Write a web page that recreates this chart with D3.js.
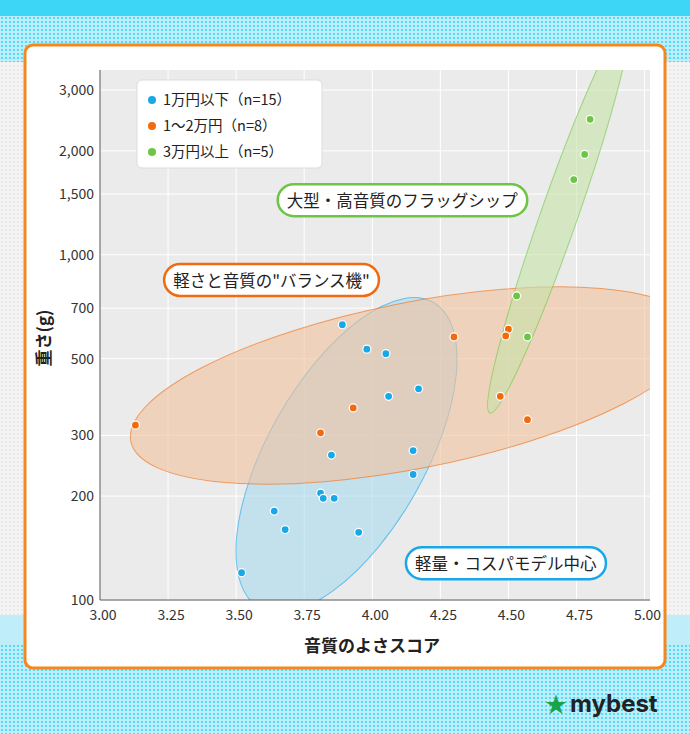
<!DOCTYPE html>
<html><head><meta charset="utf-8">
<script src="https://cdn.jsdelivr.net/npm/d3@7"></script>
<style>body{margin:0;background:#fff}svg{display:block;font-family:"Noto Sans CJK JP","Noto Sans",sans-serif}</style>
</head><body>
<svg id="c" width="690" height="734"></svg>
<script>
const groupNames = ["1万円以下（n=15）","1～2万円（n=8）","3万円以上（n=5）"];
const groupColors = ["#1aa7e8","#f26a0f","#6cc644"];
const blueX = [3.89,3.98,4.05,4.17,4.06,3.85,4.15,4.15,3.81,3.82,3.86,3.64,3.68,3.95,3.52];
const blueY = [627,533,517,409,389,263,271,231,204,197,197,181,160,157,120];
const orangeX = [3.13,3.81,3.93,4.30,4.47,4.50,4.49,4.57];
const orangeY = [321,305,360,578,389,609,582,333];
const greenX = [4.53,4.57,4.74,4.78,4.80];
const greenY = [760,578,1652,1953,2468];
const xTicks = [3.00,3.25,3.50,3.75,4.00,4.25,4.50,4.75,5.00];
const yTicks = [100,200,300,500,700,1000,1500,2000,3000];
const notes = [
  {text:"大型・高音質のフラッグシップ", g:2, x:4.11, y:1430},
  {text:"軽さと音質の\"バランス機\"", g:1, x:3.63, y:840},
  {text:"軽量・コスパモデル中心", g:0, x:4.49, y:127}
];

const svg = d3.select("#c");
const defs = svg.append("defs");
const pat = defs.append("pattern").attr("id","dots").attr("width",4).attr("height",4).attr("patternUnits","userSpaceOnUse");
pat.append("rect").attr("width",4).attr("height",4).attr("fill","#bdeefb");
pat.append("circle").attr("cx",2).attr("cy",2).attr("r",1.1).attr("fill","#3fd5f7");
const pat2 = defs.append("pattern").attr("id","dots2").attr("width",4).attr("height",4).attr("patternUnits","userSpaceOnUse");
pat2.append("rect").attr("width",4).attr("height",4).attr("fill","#f4f4f4");
pat2.append("circle").attr("cx",2).attr("cy",2).attr("r",0.9).attr("fill","#e4e4e4");

svg.append("rect").attr("width",690).attr("height",734).attr("fill","url(#dots2)");
svg.append("rect").attr("width",690).attr("height",62).attr("fill","url(#dots)");
svg.append("rect").attr("width",690).attr("height",16).attr("fill","#3dd6f7");
svg.append("rect").attr("y",615).attr("width",690).attr("height",119).attr("fill","url(#dots)");
svg.append("rect").attr("y",615).attr("width",690).attr("height",30).attr("fill","#bfeefa");

svg.append("rect").attr("x",25).attr("y",45).attr("width",640).attr("height",623).attr("rx",8)
  .attr("fill","#fff").attr("stroke","#f5871f").attr("stroke-width",3);

const L=100,R=650,T=70,B=600;
const x = d3.scaleLinear().domain([3.0,5.02]).range([L,R]);
const y = d3.scaleLog().domain([100,3430]).range([B,T]);

const g = svg.append("g");
g.append("rect").attr("x",L).attr("y",T).attr("width",R-L).attr("height",B-T).attr("fill","#ebebeb");
g.selectAll(".gx").data(xTicks).join("line").attr("x1",d=>x(d)).attr("x2",d=>x(d)).attr("y1",T).attr("y2",B).attr("stroke","#fff").attr("stroke-width",1);
g.selectAll(".gy").data(yTicks).join("line").attr("y1",d=>y(d)).attr("y2",d=>y(d)).attr("x1",L).attr("x2",R).attr("stroke","#fff").attr("stroke-width",1);

const groups = [[blueX,blueY],[orangeX,orangeY],[greenX,greenY]];
const clip = defs.append("clipPath").attr("id","pc");
clip.append("rect").attr("x",L).attr("y",T).attr("width",R-L).attr("height",B-T);
const eg = g.append("g").attr("clip-path","url(#pc)");
groups.forEach((gr,i)=>{
  const px = gr[0].map(x), py = gr[1].map(v=>y(v));
  const n=px.length, mx=d3.mean(px), my=d3.mean(py);
  let sxx=0,syy=0,sxy=0;
  for(let k=0;k<n;k++){sxx+=(px[k]-mx)**2;syy+=(py[k]-my)**2;sxy+=(px[k]-mx)*(py[k]-my);}
  sxx/=n-1;syy/=n-1;sxy/=n-1;
  const tr=sxx+syy, det=sxx*syy-sxy*sxy, disc=Math.sqrt(tr*tr/4-det);
  const l1=tr/2+disc, l2=tr/2-disc;
  const ang=Math.atan2(l1-sxx,sxy)*180/Math.PI;
  const s=2.08;
  eg.append("ellipse").attr("cx",mx).attr("cy",my).attr("rx",s*Math.sqrt(l1)).attr("ry",s*Math.sqrt(Math.max(l2,1))*(i===1?1.12:1))
    .attr("transform",`rotate(${ang},${mx},${my})`)
    .attr("fill",["#a9d8ef","#f2c29c","#c7e2a8"][i]).attr("fill-opacity",0.6)
    .attr("stroke",groupColors[i]).attr("stroke-opacity",0.6).attr("stroke-width",1);
});
groups.forEach((gr,i)=>{
  g.selectAll(null).data(gr[0].map((v,k)=>[v,gr[1][k]])).join("circle")
    .attr("cx",d=>x(d[0])).attr("cy",d=>y(d[1])).attr("r",4)
    .attr("fill",groupColors[i]).attr("stroke","#fff").attr("stroke-width",1.2);
});
g.append("line").attr("x1",L).attr("x2",L).attr("y1",T).attr("y2",B).attr("stroke","#555");
g.append("line").attr("x1",L).attr("x2",R).attr("y1",B).attr("y2",B).attr("stroke","#555");

g.selectAll(".xl").data(xTicks).join("text").attr("x",d=>x(d)+3).attr("y",B+20).attr("text-anchor","middle")
  .attr("font-size",14).attr("fill","#333").text(d=>d.toFixed(2));
g.selectAll(".yl").data(yTicks).join("text").attr("x",L-6).attr("y",d=>y(d)+5).attr("text-anchor","end")
  .attr("font-size",14).attr("fill","#333").text(d=>d3.format(",")(d));
svg.append("text").attr("x",372).attr("y",652).attr("text-anchor","middle").attr("font-size",17).attr("font-weight","bold").attr("fill","#222").text("音質のよさスコア");
svg.append("text").attr("transform","translate(50,338) rotate(-90)").attr("text-anchor","middle").attr("font-size",17).attr("font-weight","bold").attr("fill","#222").text("重さ(g)");

// legend
const lg = svg.append("g");
lg.append("rect").attr("x",137).attr("y",80).attr("width",185).attr("height",88).attr("rx",5).attr("fill","#fff").attr("stroke","#ddd");
groupNames.forEach((nm,i)=>{
  lg.append("circle").attr("cx",152).attr("cy",100+i*26).attr("r",4).attr("fill",groupColors[i]);
  lg.append("text").attr("x",163).attr("y",105+i*26).attr("font-size",14.5).attr("fill","#222").text(nm);
});

// notes
notes.forEach(nt=>{
  const ng = svg.append("g");
  const r = ng.append("rect");
  const t = ng.append("text").attr("x",x(nt.x)).attr("y",y(nt.y)+6).attr("text-anchor","middle").attr("font-size",16.5).attr("fill","#222").text(nt.text);
  const bb = t.node().getBBox();
  r.attr("x",bb.x-9).attr("y",bb.y-4).attr("width",bb.width+18).attr("height",bb.height+8).attr("rx",(bb.height+8)/2)
    .attr("fill","#fff").attr("stroke",groupColors[nt.g]).attr("stroke-width",2.5);
});

// logo
svg.append("text").attr("x",545).attr("y",712).attr("font-size",22).attr("fill","#18a54a").text("★");
svg.append("text").attr("x",570).attr("y",712).attr("font-size",24).attr("font-weight","bold").attr("fill","#222").attr("font-family","Inter, sans-serif").text("mybest");
</script>
</body></html>
